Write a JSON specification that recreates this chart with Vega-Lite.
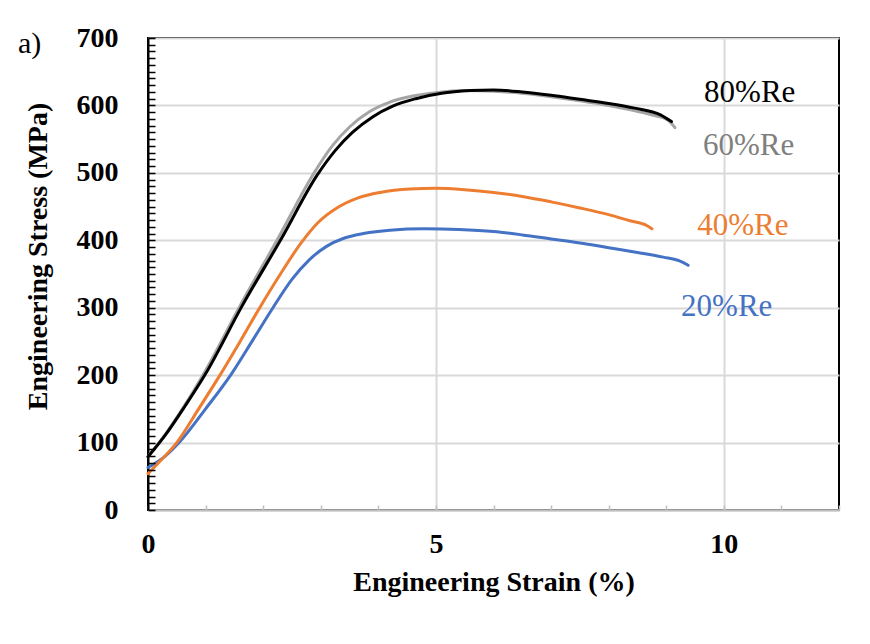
{
  "$schema": "https://vega.github.io/schema/vega-lite/v6.json",
  "width": 691,
  "height": 472,
  "autosize": {"type": "none"},
  "padding": {"left": 148, "top": 38, "right": 31, "bottom": 134},
  "background": "white",
  "title": {
    "text": "a)",
    "anchor": "start",
    "frame": "bounds",
    "font": "Liberation Serif",
    "fontSize": 30,
    "fontWeight": "normal",
    "color": "black",
    "dy": 39,
    "dx": -6
  },
  "datasets": {
    "curves": [
      {"series": "20%Re", "strain": 0, "stress": 63},
      {"series": "20%Re", "strain": 0.3, "stress": 80},
      {"series": "20%Re", "strain": 0.56, "stress": 102},
      {"series": "20%Re", "strain": 1.0, "stress": 150},
      {"series": "20%Re", "strain": 1.45, "stress": 202},
      {"series": "20%Re", "strain": 1.82, "stress": 252},
      {"series": "20%Re", "strain": 2.17, "stress": 300},
      {"series": "20%Re", "strain": 2.5, "stress": 342},
      {"series": "20%Re", "strain": 2.8, "stress": 371},
      {"series": "20%Re", "strain": 3.1, "stress": 391},
      {"series": "20%Re", "strain": 3.4, "stress": 403},
      {"series": "20%Re", "strain": 3.74, "stress": 410},
      {"series": "20%Re", "strain": 4.2, "stress": 415},
      {"series": "20%Re", "strain": 4.8, "stress": 417},
      {"series": "20%Re", "strain": 5.4, "stress": 416},
      {"series": "20%Re", "strain": 6.0, "stress": 413},
      {"series": "20%Re", "strain": 6.5, "stress": 408},
      {"series": "20%Re", "strain": 7.0, "stress": 402},
      {"series": "20%Re", "strain": 7.5, "stress": 396},
      {"series": "20%Re", "strain": 8.0, "stress": 389},
      {"series": "20%Re", "strain": 8.5, "stress": 382},
      {"series": "20%Re", "strain": 8.95, "stress": 375},
      {"series": "20%Re", "strain": 9.24, "stress": 369},
      {"series": "20%Re", "strain": 9.38, "stress": 363},
      {"series": "40%Re", "strain": 0, "stress": 54},
      {"series": "40%Re", "strain": 0.25, "stress": 76},
      {"series": "40%Re", "strain": 0.5, "stress": 100},
      {"series": "40%Re", "strain": 0.88, "stress": 150},
      {"series": "40%Re", "strain": 1.25, "stress": 200},
      {"series": "40%Re", "strain": 1.6, "stress": 250},
      {"series": "40%Re", "strain": 1.94, "stress": 300},
      {"series": "40%Re", "strain": 2.3, "stress": 350},
      {"series": "40%Re", "strain": 2.65, "stress": 395},
      {"series": "40%Re", "strain": 2.95, "stress": 426},
      {"series": "40%Re", "strain": 3.3, "stress": 449},
      {"series": "40%Re", "strain": 3.65, "stress": 463},
      {"series": "40%Re", "strain": 4.03, "stress": 471},
      {"series": "40%Re", "strain": 4.55, "stress": 476},
      {"series": "40%Re", "strain": 5.0, "stress": 477},
      {"series": "40%Re", "strain": 5.5, "stress": 475},
      {"series": "40%Re", "strain": 6.0, "stress": 471},
      {"series": "40%Re", "strain": 6.5, "stress": 465},
      {"series": "40%Re", "strain": 7.0, "stress": 457},
      {"series": "40%Re", "strain": 7.5, "stress": 448},
      {"series": "40%Re", "strain": 8.0, "stress": 438},
      {"series": "40%Re", "strain": 8.37, "stress": 429},
      {"series": "40%Re", "strain": 8.66, "stress": 422},
      {"series": "40%Re", "strain": 8.75, "stress": 417},
      {"series": "60%Re", "strain": 0, "stress": 79},
      {"series": "60%Re", "strain": 0.3, "stress": 112},
      {"series": "60%Re", "strain": 0.65, "stress": 157},
      {"series": "60%Re", "strain": 1.0, "stress": 207},
      {"series": "60%Re", "strain": 1.6, "stress": 303},
      {"series": "60%Re", "strain": 2.26, "stress": 403},
      {"series": "60%Re", "strain": 2.87, "stress": 498},
      {"series": "60%Re", "strain": 3.2, "stress": 540},
      {"series": "60%Re", "strain": 3.5, "stress": 568},
      {"series": "60%Re", "strain": 3.85, "stress": 591},
      {"series": "60%Re", "strain": 4.2, "stress": 605},
      {"series": "60%Re", "strain": 4.6, "stress": 614},
      {"series": "60%Re", "strain": 5.0, "stress": 619},
      {"series": "60%Re", "strain": 5.5, "stress": 622},
      {"series": "60%Re", "strain": 6.0, "stress": 621},
      {"series": "60%Re", "strain": 6.5, "stress": 618},
      {"series": "60%Re", "strain": 7.0, "stress": 613},
      {"series": "60%Re", "strain": 7.5, "stress": 607},
      {"series": "60%Re", "strain": 8.0, "stress": 600},
      {"series": "60%Re", "strain": 8.4, "stress": 593},
      {"series": "60%Re", "strain": 8.8, "stress": 585},
      {"series": "60%Re", "strain": 9.05, "stress": 577},
      {"series": "60%Re", "strain": 9.15, "stress": 567},
      {"series": "80%Re", "strain": 0, "stress": 79},
      {"series": "80%Re", "strain": 0.3, "stress": 111},
      {"series": "80%Re", "strain": 0.65, "stress": 155},
      {"series": "80%Re", "strain": 1.0, "stress": 202},
      {"series": "80%Re", "strain": 1.63, "stress": 302},
      {"series": "80%Re", "strain": 2.32, "stress": 403},
      {"series": "80%Re", "strain": 2.94, "stress": 497},
      {"series": "80%Re", "strain": 3.25, "stress": 533},
      {"series": "80%Re", "strain": 3.55, "stress": 560},
      {"series": "80%Re", "strain": 3.9, "stress": 583},
      {"series": "80%Re", "strain": 4.25, "stress": 599},
      {"series": "80%Re", "strain": 4.65, "stress": 610},
      {"series": "80%Re", "strain": 5.1, "stress": 618},
      {"series": "80%Re", "strain": 5.6, "stress": 622},
      {"series": "80%Re", "strain": 6.0, "stress": 623},
      {"series": "80%Re", "strain": 6.5, "stress": 620},
      {"series": "80%Re", "strain": 7.0, "stress": 615},
      {"series": "80%Re", "strain": 7.5, "stress": 609},
      {"series": "80%Re", "strain": 8.0, "stress": 603},
      {"series": "80%Re", "strain": 8.45, "stress": 596},
      {"series": "80%Re", "strain": 8.9, "stress": 586},
      {"series": "80%Re", "strain": 9.09, "stress": 576}
    ],
    "labels": [
      {"series": "80%Re", "strain": 10.45, "stress": 618},
      {"series": "60%Re", "strain": 10.43, "stress": 540},
      {"series": "40%Re", "strain": 10.33, "stress": 421},
      {"series": "20%Re", "strain": 10.05, "stress": 301}
    ]
  },
  "encoding": {
    "x": {
      "field": "strain",
      "type": "quantitative",
      "scale": {"domain": [0, 12], "nice": false},
      "axis": {
        "title": "Engineering Strain (%)",
        "values": [0, 1, 2, 3, 4, 5, 6, 7, 8, 9, 10, 11, 12],
        "labelExpr": "datum.value % 5 === 0 ? datum.label : ''",
        "labelOverlap": false,
        "labelFlush": false,
        "labelPadding": 25,
        "domainColor": "#bfbfbf",
        "domainWidth": 2,
        "tickColor": "#bfbfbf",
        "tickWidth": 1.5,
        "tickSize": -5,
        "gridOpacity": {"condition": {"test": "datum.value === 5 || datum.value === 10", "value": 1}, "value": 0},
        "titlePadding": 10
      }
    }
  },
  "layer": [
    {
      "data": {"name": "curves"},
      "mark": {"type": "line", "interpolate": "monotone", "strokeWidth": 3, "strokeCap": "round"},
      "encoding": {
        "y": {
          "field": "stress",
          "type": "quantitative",
          "scale": {"domain": [0, 700], "nice": false},
          "axis": {
            "title": "Engineering Stress (MPa)",
            "orient": "left",
            "values": [0, 100, 200, 300, 400, 500, 600, 700],
            "labelOverlap": false,
            "labelFlush": false,
            "labelPadding": 30,
            "domainColor": "black",
            "domainWidth": 2,
            "ticks": false,
            "titleX": -96,
            "titleY": 218
          }
        },
        "color": {
          "field": "series",
          "type": "nominal",
          "scale": {"domain": ["20%Re", "40%Re", "60%Re", "80%Re"], "range": ["#4472c4", "#ed7d31", "#a5a5a5", "#000000"]},
          "legend": null
        }
      }
    },
    {
      "data": {"name": "labels"},
      "mark": {"type": "text", "font": "Liberation Serif", "fontSize": 31, "align": "center", "baseline": "middle"},
      "encoding": {
        "y": {
          "field": "stress",
          "type": "quantitative",
          "axis": {
            "title": null,
            "orient": "left",
            "values": [0, 10, 20, 30, 40, 50, 60, 70, 80, 90, 100, 110, 120, 130, 140, 150, 160, 170, 180, 190, 200, 210, 220, 230, 240, 250, 260, 270, 280, 290, 300, 310, 320, 330, 340, 350, 360, 370, 380, 390, 400, 410, 420, 430, 440, 450, 460, 470, 480, 490, 500, 510, 520, 530, 540, 550, 560, 570, 580, 590, 600, 610, 620, 630, 640, 650, 660, 670, 680, 690, 700],
            "labels": false,
            "grid": false,
            "domain": false,
            "tickColor": "black",
            "tickWidth": 1.5,
            "tickSize": -7,
            "zindex": 1
          }
        },
        "text": {"field": "series", "type": "nominal"},
        "color": {
          "field": "series",
          "type": "nominal",
          "scale": {"domain": ["20%Re", "40%Re", "60%Re", "80%Re"], "range": ["#4472c4", "#ed7d31", "#7f7f7f", "#000000"]},
          "legend": null
        }
      }
    }
  ],
  "resolve": {"scale": {"color": "independent"}, "axis": {"y": "independent"}},
  "config": {
    "view": {"stroke": "black", "strokeWidth": 2},
    "axis": {
      "labelFont": "Liberation Serif",
      "labelFontSize": 28,
      "labelFontWeight": "bold",
      "labelColor": "black",
      "titleFont": "Liberation Serif",
      "titleFontSize": 28,
      "titleFontWeight": "bold",
      "titleColor": "black",
      "gridColor": "#d9d9d9",
      "gridWidth": 2
    }
  }
}
